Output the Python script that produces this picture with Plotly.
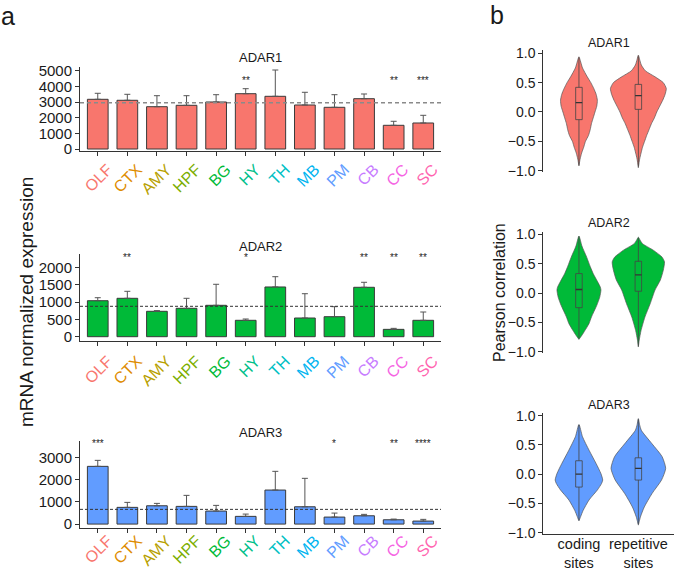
import plotly.graph_objects as go

FONT = "Liberation Sans, Arial, sans-serif"
W, H = 674, 570

regions = ["OLF", "CTX", "AMY", "HPF", "BG", "HY", "TH", "MB", "PM", "CB", "CC", "SC"]
region_colors = ["#F8766D", "#DE8C00", "#B79F00", "#7CAE00", "#00BA38", "#00C08B",
                 "#00BFC4", "#00B4F0", "#619CFF", "#C77CFF", "#F564E3", "#FF64B0"]

adar1_mean = [3186, 3122, 2712, 2801, 3013, 3545, 3378, 2821, 2673, 3224, 1519, 1667]
adar1_upper = [3571, 3506, 3417, 3417, 3481, 3865, 5064, 3635, 3481, 3526, 1776, 2160]
adar2_mean = [1043, 1113, 736, 823, 910, 475, 1441, 542, 580, 1432, 213, 475]
adar2_upper = [1130, 1316, 756, 1113, 1519, 513, 1739, 1246, 870, 1577, 242, 716]
adar3_mean = [2599, 752, 824, 797, 586, 347, 1532, 779, 315, 374, 194, 135]
adar3_upper = [2869, 977, 932, 1293, 842, 450, 2374, 2059, 495, 437, 225, 212]

adar1_stars = {"HY": "**", "CC": "**", "SC": "***"}
adar2_stars = {"CTX": "**", "HY": "*", "CB": "**", "CC": "**", "SC": "**"}
adar3_stars = {"OLF": "***", "PM": "*", "CC": "**", "SC": "****"}
star_level = [4400, 2290, 3620]
overall_mean = [2968, 881, 662]

adar_names = ["ADAR1", "ADAR2", "ADAR3"]
adar_colors = ["#F8766D", "#00BA38", "#619CFF"]

# violin outlines: y values and half widths (x units)
a1_cod_y = [0.94, 0.85, 0.75, 0.6, 0.5, 0.4, 0.3, 0.2, 0.1, 0.0, -0.1, -0.2, -0.3, -0.4, -0.5, -0.6, -0.7, -0.8, -0.92]
a1_cod_w = [0, 0.03, 0.06, 0.14, 0.2, 0.25, 0.29, 0.31, 0.3, 0.27, 0.24, 0.21, 0.19, 0.16, 0.11, 0.08, 0.045, 0.02, 0]
a1_rep_y = [0.97, 0.9, 0.8, 0.7, 0.6, 0.5, 0.4, 0.3, 0.2, 0.1, 0.0, -0.1, -0.2, -0.3, -0.4, -0.5, -0.6, -0.7, -0.8, -0.95]
a1_rep_w = [0, 0.02, 0.05, 0.12, 0.28, 0.42, 0.47, 0.45, 0.41, 0.36, 0.31, 0.27, 0.22, 0.18, 0.14, 0.105, 0.07, 0.045, 0.022, 0]
a2_cod_y = [0.97, 0.8, 0.61, 0.45, 0.33, 0.2, 0.1, 0.05, -0.07, -0.21, -0.41, -0.52, -0.64, -0.72, -0.79]
a2_cod_w = [0, 0.05, 0.13, 0.19, 0.24, 0.31, 0.36, 0.37, 0.35, 0.30, 0.21, 0.17, 0.10, 0.05, 0]
a2_rep_y = [0.95, 0.9, 0.84, 0.73, 0.61, 0.53, 0.39, 0.22, 0.05, -0.18, -0.41, -0.64, -0.8, -0.92]
a2_rep_w = [0, 0.03, 0.07, 0.25, 0.4, 0.44, 0.42, 0.37, 0.28, 0.2, 0.11, 0.045, 0.015, 0]
a3_cod_y = [0.85, 0.64, 0.41, 0.18, 0.01, -0.1, -0.16, -0.27, -0.44, -0.62, -0.72, -0.8]
a3_cod_w = [0, 0.06, 0.17, 0.29, 0.37, 0.40, 0.38, 0.31, 0.17, 0.07, 0.03, 0]
a3_rep_y = [0.95, 0.85, 0.75, 0.52, 0.3, 0.1, -0.1, -0.33, -0.56, -0.73, -0.87]
a3_rep_w = [0, 0.02, 0.05, 0.23, 0.4, 0.46, 0.39, 0.23, 0.1, 0.035, 0]

# box stats: [q1, median, q3, lowerfence, upperfence]
a1_cod_box = [-0.13, 0.16, 0.42, -0.9, 0.93]
a1_rep_box = [0.045, 0.28, 0.47, -0.93, 0.95]
a2_cod_box = [-0.25, 0.06, 0.33, -0.78, 0.96]
a2_rep_box = [0.03, 0.31, 0.54, -0.9, 0.94]
a3_cod_box = [-0.22, 0.0, 0.23, -0.78, 0.84]
a3_rep_box = [-0.1, 0.1, 0.28, -0.85, 0.94]

site_labels = ["coding<br>sites", "repetitive<br>sites"]

BOX_HALF = 0.055

fig = go.Figure()

bar_means = [adar1_mean, adar2_mean, adar3_mean]
bar_uppers = [adar1_upper, adar2_upper, adar3_upper]
bar_stars = [adar1_stars, adar2_stars, adar3_stars]

for i in range(3):
    ax = "" if i == 0 else str(i + 1)
    m = bar_means[i]
    u = bar_uppers[i]
    fig.add_trace(go.Bar(
        x=regions, y=m, width=0.7,
        marker=dict(color=adar_colors[i], line=dict(color="#3a3a3a", width=1)),
        error_y=dict(type="data", symmetric=False,
                     array=[b - a for a, b in zip(m, u)],
                     arrayminus=[0] * len(m),
                     color="#555555", thickness=1, width=3),
        xaxis="x" + ax, yaxis="y" + ax, showlegend=False))

violin_sets = [
    [(a1_cod_y, a1_cod_w, a1_cod_box), (a1_rep_y, a1_rep_w, a1_rep_box)],
    [(a2_cod_y, a2_cod_w, a2_cod_box), (a2_rep_y, a2_rep_w, a2_rep_box)],
    [(a3_cod_y, a3_cod_w, a3_cod_box), (a3_rep_y, a3_rep_w, a3_rep_box)],
]
for i, vs in enumerate(violin_sets):
    ax = str(i + 4)
    for c, (vy, vw, bx) in enumerate(vs):
        xs = [c + w for w in vw] + [c - w for w in vw[::-1]]
        ys = list(vy) + list(vy[::-1])
        fig.add_trace(go.Scatter(
            x=xs, y=ys, mode="lines", fill="toself",
            fillcolor=adar_colors[i],
            line=dict(color="#555555", width=0.7, shape="spline", smoothing=0.6),
            xaxis="x" + ax, yaxis="y" + ax, showlegend=False, hoverinfo="skip"))
        q1, med, q3, lo, hi = bx
        l, r = c - BOX_HALF, c + BOX_HALF
        fig.add_trace(go.Scatter(
            x=[c, c, None, c, c], y=[lo, q1, None, q3, hi], mode="lines",
            line=dict(color="#444444", width=0.8),
            xaxis="x" + ax, yaxis="y" + ax, showlegend=False, hoverinfo="skip"))
        fig.add_trace(go.Scatter(
            x=[l, r, r, l, l], y=[q1, q1, q3, q3, q1], mode="lines",
            line=dict(color="#444444", width=0.8),
            xaxis="x" + ax, yaxis="y" + ax, showlegend=False, hoverinfo="skip"))
        fig.add_trace(go.Scatter(
            x=[l, r], y=[med, med], mode="lines",
            line=dict(color="#333333", width=1.3),
            xaxis="x" + ax, yaxis="y" + ax, showlegend=False, hoverinfo="skip"))


def px_x(p):
    return p / W


def px_y(p):
    return 1 - p / H


axis_common = dict(showgrid=False, zeroline=False, showline=True, linecolor="#333333",
                   linewidth=1, ticks="outside", ticklen=4, tickcolor="#333333",
                   automargin=False,
                   tickfont=dict(family=FONT, size=15, color="#1a1a1a"))

a_dom_x = [px_x(80), px_x(441)]
a_y_px = [(67, 151), (254, 340.7), (441, 528.3)]
a_ranges = [[-128, 5256], [-116, 2397], [-190, 3740]]
a_ticks = [[0, 1000, 2000, 3000, 4000, 5000], [0, 500, 1000, 1500, 2000], [0, 1000, 2000, 3000]]
a_label_standoff = [-2, 0, -8]
tick_text = ['<span style="color:%s">%s</span>' % (col, r) for r, col in zip(regions, region_colors)]

layout = dict(width=W, height=H, margin=dict(l=0, r=0, t=0, b=0, autoexpand=False),
              paper_bgcolor="white", plot_bgcolor="white", bargap=0.3,
              font=dict(family=FONT, color="#1a1a1a"))
for i in range(3):
    ax = "" if i == 0 else str(i + 1)
    top, bot = a_y_px[i]
    layout["xaxis" + ax] = dict(axis_common, domain=a_dom_x, anchor="y" + ax, type="category",
                                range=[-0.6, 11.6], tickvals=regions, ticktext=tick_text,
                                tickangle=-45, ticklabelshift=10,
                                ticklabelstandoff=a_label_standoff[i],
                                tickfont=dict(family=FONT, size=16))
    layout["yaxis" + ax] = dict(axis_common, domain=[px_y(bot), px_y(top)], anchor="x" + ax,
                                range=a_ranges[i], tickvals=a_ticks[i])

b_dom_x = [px_x(543.3), 1.0]
b_y_px = [(50, 171.7), (231.7, 353.3), (412.7, 534)]
b_ranges = [[-1.017, 1.056], [-1.027, 1.044], [-1.022, 1.051]]
for i in range(3):
    ax = str(i + 4)
    top, bot = b_y_px[i]
    xa = dict(axis_common, domain=b_dom_x, anchor="y" + ax, range=[-0.6, 1.6],
              tickvals=[0, 1], ticktext=site_labels)
    if i < 2:
        xa.update(showline=False, ticks="", showticklabels=False)
    else:
        xa.update(ticks="", ticklabelstandoff=-3,
                  tickfont=dict(family=FONT, size=14.5, color="#1a1a1a"))
    layout["xaxis" + ax] = xa
    layout["yaxis" + ax] = dict(axis_common, domain=[px_y(bot), px_y(top)], anchor="x" + ax,
                                range=b_ranges[i], tickvals=[-1, -0.5, 0, 0.5, 1],
                                tickformat=".1f", tickfont=dict(family=FONT, size=14, color="#1a1a1a"))

annotations = []
a_title_y = [58, 246, 432]
b_title_y = [43, 223, 405]
for i in range(3):
    annotations.append(dict(text=adar_names[i], x=px_x(260.5), y=px_y(a_title_y[i]),
                            xref="paper", yref="paper", showarrow=False,
                            font=dict(family=FONT, size=13, color="#1a1a1a"),
                            xanchor="center", yanchor="middle"))
    annotations.append(dict(text=adar_names[i], x=px_x(608.5), y=px_y(b_title_y[i]),
                            xref="paper", yref="paper", showarrow=False,
                            font=dict(family=FONT, size=12.5, color="#1a1a1a"),
                            xanchor="center", yanchor="middle"))
    ax = "" if i == 0 else str(i + 1)
    for r, s in bar_stars[i].items():
        annotations.append(dict(text=s, x=r, y=star_level[i], xref="x" + ax, yref="y" + ax,
                                showarrow=False, font=dict(family=FONT, size=10, color="#222222"),
                                xanchor="center", yanchor="middle"))

annotations.append(dict(text="mRNA normalized expression", x=px_x(26), y=px_y(302),
                        xref="paper", yref="paper", showarrow=False, textangle=-90,
                        font=dict(family=FONT, size=19, color="#1a1a1a"),
                        xanchor="center", yanchor="middle"))
annotations.append(dict(text="Pearson correlation", x=px_x(499), y=px_y(293),
                        xref="paper", yref="paper", showarrow=False, textangle=-90,
                        font=dict(family=FONT, size=16, color="#1a1a1a"),
                        xanchor="center", yanchor="middle"))
annotations.append(dict(text="a", x=px_x(8), y=px_y(16), xref="paper", yref="paper",
                        showarrow=False, font=dict(family=FONT, size=25, color="#1a1a1a"),
                        xanchor="center", yanchor="middle"))
annotations.append(dict(text="b", x=px_x(497), y=px_y(15), xref="paper", yref="paper",
                        showarrow=False, font=dict(family=FONT, size=25, color="#1a1a1a"),
                        xanchor="center", yanchor="middle"))
layout["annotations"] = annotations

shapes = []
for i in range(3):
    ax = "" if i == 0 else str(i + 1)
    shapes.append(dict(type="line", xref="x%s domain" % ax, yref="y" + ax,
                       x0=0, x1=1, y0=overall_mean[i], y1=overall_mean[i],
                       line=dict(color="#8a8a8a" if i == 0 else "#333333",
                                 width=1.5 if i == 0 else 1,
                                 dash="4px,3px" if i == 0 else "3px,2px")))
layout["shapes"] = shapes

fig.update_layout(layout)
fig.write_html("out.html", config={"displayModeBar": False},
               post_script="document.body.style.margin='0px';document.body.style.padding='0px';")
